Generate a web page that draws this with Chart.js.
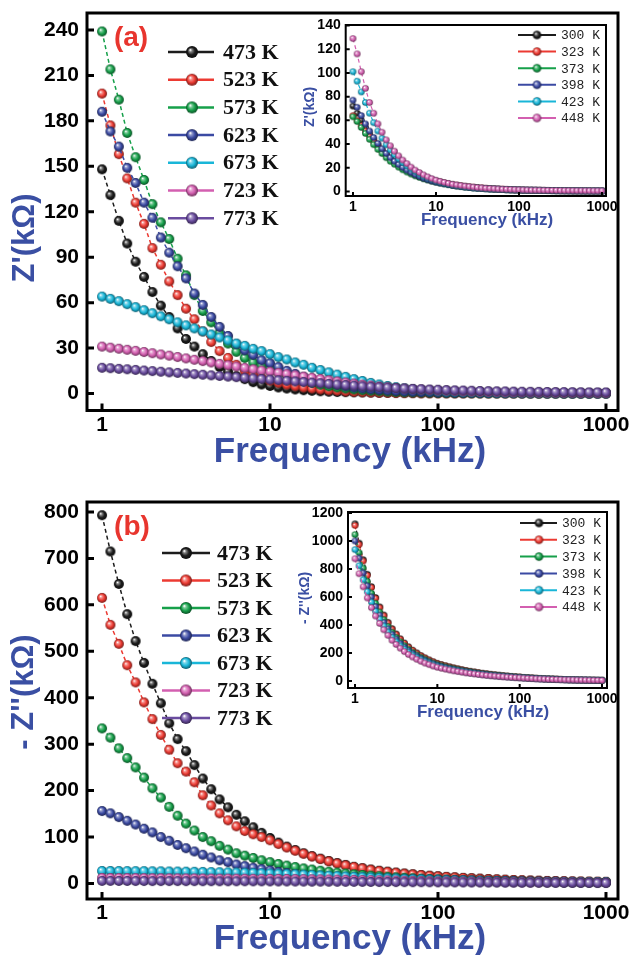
<!DOCTYPE html>
<html><head><meta charset="utf-8">
<script src="https://cdn.jsdelivr.net/npm/chart.js"></script>
<style>
html,body{margin:0;padding:0;background:#fff;}
body{width:631px;height:955px;position:relative;overflow:hidden;}
canvas{position:absolute;}
</style></head><body>
<canvas id="mainA" width="631" height="478" style="left:0px;top:0px"></canvas>
<canvas id="insetA" width="330" height="236" style="left:290px;top:0px"></canvas>
<canvas id="mainB" width="631" height="477" style="left:0px;top:478px"></canvas>
<canvas id="insetB" width="330" height="245" style="left:290px;top:478px"></canvas>
<script>
// ---------- DATA ----------
const freqs = [1,1.122,1.259,1.413,1.585,1.778,1.995,2.239,2.512,2.818,3.162,3.548,3.981,4.467,5.012,5.623,6.310,7.079,7.943,8.913,
  10,11.22,12.59,14.13,15.85,17.78,19.95,22.39,25.12,28.18,31.62,35.48,39.81,44.67,50.12,56.23,63.10,70.79,79.43,89.13,
  100,112.2,125.9,141.3,158.5,177.8,199.5,223.9,251.2,281.8,316.2,354.8,398.1,446.7,501.2,562.3,631.0,707.9,794.3,891.3,1000];

const tempsMain = ['473 K','523 K','573 K','623 K','673 K','723 K','773 K'];
const tempsInset = ['300 K','323 K','373 K','398 K','423 K','448 K'];

const xTicks = [1,10,100,1000];
const xTickLabels = ['1','10','100','1000'];
const yTicksA = [0,30,60,90,120,150,180,210,240];
const yTicksB = [0,100,200,300,400,500,600,700,800];
const yTicksIA = [0,20,40,60,80,100,120,140];
const yTicksIB = [0,200,400,600,800,1000,1200];

// Z' (kOhm), main panel (a)
const zr473 = [148,131,114,99,87,77,67,58,50.5,43,36,31,26,21.5,17.5,14.5,11.5,9.5,7.5,6,5,
  4,3.3,2.7,2.2,1.8,1.5,1.2,1.0,0.9,0.8, 0.7,0.6,0.5,0.5,0.4,0.4,0.35,0.3,0.3,0.3,
  0.25,0.25,0.2,0.2,0.2,0.2,0.15,0.15,0.15,0.15, 0.1,0.1,0.1,0.1,0.1,0.1,0.1,0.1,0.1,0.1];
const zr523 = [198,177,158,142,126,112,96,85,74,65,56,49,41,34,28,23.5,19,15,12.5,10.5,8.5,
  7,5.8,4.8,4,3.3,2.7,2.2,1.8,1.4,1.1, 0.9,0.7,0.5,0.4,0.3,0.2,0.2,0.1,0.1,0.1,
  0.1,0.1,0.1,0.1,0.1,0.1,0.1,0.1,0.1,0.1, 0.1,0.1,0.1,0.1,0.1,0.1,0.1,0.1,0.1,0.1];
const zr573 = [239,214,194,172,156,141,125,113,102,89,78,65,54.5,47,40,33,27.5,23.5,20.5,18.5,16.5,
  14,12,10,8.5,7,5.8,4.8,4,3.3,2.7, 2.2,1.8,1.5,1.2,1,0.8,0.7,0.6,0.5,0.4,
  0.35,0.3,0.3,0.25,0.25,0.2,0.2,0.2,0.15,0.15, 0.15,0.1,0.1,0.1,0.1,0.1,0.1,0.1,0.1,0.1];
const zr623 = [186,173,163,149,139,126,116,103,93,84,76,66,58.5,50.5,44,38,32.5,28.5,25.5,22,20,
  17.5,15,13,11,9.5,8,6.8,5.7,4.8,4, 3.4,2.8,2.4,2,1.7,1.4,1.2,1,0.85,0.7,
  0.6,0.5,0.45,0.4,0.35,0.3,0.3,0.25,0.25,0.2, 0.2,0.2,0.15,0.15,0.15,0.1,0.1,0.1,0.1,0.1];
const zr673 = [64,62.5,61,59,57,55,53,51,49,47,45,43,41,39,37,35,33,31.5,29.5,28,26,
  24,22.5,20.5,19,17,15.5,14,12.5,11,9.5, 8.3,7,6,5,4.2,3.5,2.9,2.4,2,1.6,
  1.3,1.1,0.9,0.8,0.7,0.6,0.5,0.45,0.4,0.35, 0.3,0.3,0.25,0.25,0.2,0.2,0.2,0.15,0.15,0.15];
const zr723 = [31,30.3,29.6,28.9,28.2,27.4,26.6,25.8,25,24.1,23.2, 22.3,21.4,20.5,19.6,18.7,17.8,16.9,16,15.2,14.4,
  13.6,12.8,12,11.2,10.4,9.6,8.8,8,7.3,6.6, 5.9,5.3,4.7,4.2,3.7,3.3,2.9,2.6,2.3,2.0,
  1.8,1.6,1.4,1.25,1.1,1.0,0.9,0.8,0.7,0.65, 0.6,0.55,0.5,0.45,0.4,0.4,0.35,0.35,0.3,0.3];
const zr773 = [17,16.7,16.3,16,15.6,15.2,14.8,14.4,14,13.6,13.2, 12.8,12.4,12,11.6,11.2,10.8,10.4,10,9.6,9.2,
  8.8,8.4,8,7.6,7.2,6.8,6.4,6,5.6,5.2, 4.8,4.5,4.2,3.9,3.6,3.3,3.1,2.9,2.7,2.5,
  2.3,2.1,2,1.85,1.7,1.6,1.5,1.4,1.3,1.2, 1.15,1.1,1.05,1,0.95,0.9,0.85,0.8,0.8,0.75];

// -Z'' (kOhm), main panel (b)
const zi473 = [793,715,645,580,522,475,430,388,345,311,285,255,226,203,181,164,148,134,121,109,98,
  88,79.5,72,65,59,53.5,48.5,44,40,36, 33,30,27.5,25.5,23.5,21.5,19.8,18.2,16.8,15.5,
  14.3,13.2,12.2,11.3,10.4,9.6,8.8,8.1,7.4,6.8, 6.3,5.8,5.4,5,4.7,4.4,4.1,3.9,3.7,3.5];
const zi523 = [615,557,516,470,433,390,354,320,288,259,241,218,190,168,151,136,123,113,106,100,93,
  85,77.5,70.5,64,58,52.5,47.5,43,39,35.5, 32.5,29.5,27,25,23,21,19.4,17.9,16.5,15.2,
  14,12.9,11.9,11,10.2,9.4,8.7,8,7.4,6.9, 6.4,5.9,5.5,5.1,4.8,4.5,4.2,4,3.8,3.6];
const zi573 = [334,314,291,270,250,228,205,185,165,146,129,114,100,91,81,73,65,60,55,50,46,
  42,38.5,35.5,32.5,30,27.5,25.3,23.3,21.5,19.8, 18.3,16.9,15.6,14.4,13.3,12.3,11.4,10.6,9.8,9.1,
  8.4,7.8,7.2,6.7,6.2,5.8,5.4,5,4.7,4.4, 4.1,3.8,3.6,3.4,3.2,3,2.9,2.8,2.7,2.6];
const zi623 = [156,151,143,135,127,118,110,100,92,83,76,69,62,56,50,46,41,37.5,34,31,28,
  25,22.5,20,18,16.8,16,15.2,14.5,13.8,13.2, 12.6,12,11.4,10.9,10.4,9.9,9.4,9,8.6,8.2,
  7.8,7.4,7,6.6,6.3,6,5.7,5.4,5.1,4.8, 4.5,4.3,4.1,3.9,3.7,3.5,3.3,3.1,3,2.9];
const zi673 = [27,26.9,26.8,26.7,26.6,26.5,26.3,26.1,25.9,25.7,25.5, 25.2,24.9,24.6,24.3,24,23.6,23.2,22.8,22.3,21.8,
  21.2,20.6,19.9,19.2,18.5,17.7,16.9,16.1,15.3,14.5, 13.7,12.9,12.1,11.3,10.6,9.9,9.2,8.6,8,7.4,
  6.9,6.4,5.9,5.5,5.1,4.7,4.4,4.1,3.8,3.5, 3.3,3.1,2.9,2.7,2.5,2.4,2.3,2.2,2.1,2];
const zi723 = [12,11.9,11.8,11.7,11.6,11.5,11.4,11.3,11.2,11.1,11, 10.9,10.8,10.7,10.6,10.5,10.4,10.3,10.2,10.1,10,
  9.9,9.7,9.5,9.3,9.1,8.9,8.7,8.4,8.1,7.8, 7.5,7.2,6.9,6.6,6.3,6,5.7,5.4,5.1,4.8,
  4.5,4.3,4.1,3.9,3.7,3.5,3.3,3.1,2.9,2.7, 2.6,2.5,2.4,2.3,2.2,2.1,2,1.9,1.8,1.7];
const zi773 = [5.5,5.5,5.4,5.4,5.3,5.3,5.2,5.2,5.1,5.1,5, 5,4.9,4.9,4.8,4.8,4.7,4.7,4.6,4.6,4.5,
  4.4,4.3,4.2,4.1,4,3.9,3.8,3.7,3.6,3.5, 3.4,3.3,3.2,3.1,3,2.9,2.8,2.7,2.6,2.5,
  2.4,2.3,2.2,2.1,2,1.9,1.8,1.7,1.6,1.5, 1.45,1.4,1.35,1.3,1.25,1.2,1.15,1.1,1.05,1];

// Z' inset (a)
const izr300 = [72,66,60,54,48.5,43.5,39,35,31.5,28,25,22.3,20,17.8,15.9,14.2,12.7,11.4,10.2,9.1,8.2,
  7.4,6.7,6.0,5.4,4.9,4.4,4.0,3.6,3.3,3.0, 2.7,2.5,2.3,2.1,1.9,1.75,1.6,1.5,1.4,1.3,
  1.2,1.1,1.05,1.0,0.95,0.9,0.85,0.8,0.75,0.7, 0.7,0.65,0.6,0.6,0.55,0.55,0.5,0.5,0.5,0.45];
const izr323 = [64,60,55.5,51,46.5,42,38,34.5,31,28,25.3,22.8,20.5,18.5,16.7,15,13.6,12.3,11.1,10,9,
  8.2,7.4,6.7,6.0,5.4,4.9,4.4,4.0,3.6,3.3, 3.0,2.7,2.5,2.3,2.1,1.9,1.75,1.6,1.5,1.4,
  1.3,1.2,1.1,1.05,1.0,0.95,0.9,0.85,0.8,0.75, 0.7,0.7,0.65,0.6,0.6,0.55,0.55,0.5,0.5,0.5];
const izr373 = [63,59,54,49,44,39.5,35.5,32,28.5,25.5,23,20.5,18.3,16.4,14.7,13.2,11.9,10.7,9.7,8.8,8,
  7.2,6.5,5.8,5.2,4.7,4.2,3.8,3.4,3.1,2.8, 2.6,2.4,2.2,2.0,1.85,1.7,1.55,1.45,1.35,1.25,
  1.15,1.1,1.0,0.95,0.9,0.85,0.8,0.75,0.7,0.7, 0.65,0.6,0.6,0.55,0.55,0.5,0.5,0.45,0.45,0.4];
const izr398 = [77,71,64,57,51,45.5,40.5,36,32,28.5,25.5,22.7,20.2,18,16,14.2,12.6,11.2,10,8.9,8,
  7.2,6.5,5.8,5.2,4.7,4.2,3.8,3.4,3.1,2.8, 2.6,2.4,2.2,2.0,1.85,1.7,1.55,1.45,1.35,1.25,
  1.15,1.1,1.0,0.95,0.9,0.85,0.8,0.75,0.7,0.7, 0.65,0.6,0.6,0.55,0.55,0.5,0.5,0.45,0.45,0.4];
const izr423 = [101,93,84,75,66,58,51,45,39.5,35,31,27.5,24.3,21.5,19,16.8,14.8,13,11.5,10.2,9,
  8,7.1,6.3,5.6,5,4.5,4,3.6,3.2,2.9, 2.6,2.4,2.2,2,1.85,1.7,1.6,1.5,1.4,1.3,
  1.2,1.1,1.05,1,0.95,0.9,0.85,0.8,0.75,0.7, 0.7,0.65,0.6,0.6,0.55,0.55,0.5,0.5,0.5,0.45];
const izr448 = [129,116,101,87,75,66,57,50,43.5,38.5,34,30,26.5,23.5,20.5,18,16,14,12.3,10.8,9.5,
  8.5,7.6,6.8,6.1,5.5,5,4.5,4.1,3.7,3.3, 3,2.7,2.5,2.3,2.1,1.9,1.8,1.65,1.5,1.4,
  1.3,1.2,1.1,1.05,1.0,0.95,0.9,0.85,0.8,0.75, 0.7,0.7,0.65,0.6,0.6,0.55,0.55,0.5,0.5,0.5];

// -Z'' inset (b)
const izi300 = [1123,985,866,762,674,596,529,471,419,374,336,301,271,244,220,200,181,165,150,137,126,
  117,108.5,100.7,93.4,86.7,80.4,74.6,69.3,64.3,59.6, 55.3,51.4,47.6,44.2,41.1,38.1,35.3,32.8,30.4,28.2,
  25.8,23.7,21.8,19.9,18.3,16.8,15.4,14.1,13,11.8, 10.8,10,9.2,8.4,7.7,7.1,6.4,5.9,5.4,5];
const izi323 = [1111,974,857,754,667,590,523,466,414,370,332,298,268,241,218,198,179,163,149,136,124,
  115,106.8,99.1,91.9,85.3,79.1,73.4,68.2,63.2,58.7, 54.4,50.6,46.9,43.5,40.4,37.4,34.7,32.2,29.9,27.8,
  25.4,23.3,21.5,19.6,18,16.5,15.1,13.9,12.8,11.7, 10.7,9.8,9.1,8.3,7.6,6.9,6.3,5.8,5.3,5];
const izi373 = [1045,916,806,710,627,555,492,438,390,348,312,280,252,227,205,186,168,154,140,127,117,
  108.6,100.7,93.5,86.7,80.5,74.6,69.3,64.4,59.7,55.3, 51.4,47.7,44.2,41.1,38.1,35.3,32.8,30.4,28.2,26.2,
  24,22,20.2,18.5,17,15.6,14.3,13.1,12.1,11, 10.1,9.2,8.5,7.8,7.1,6.6,6,5.5,5,4.7];
const izi398 = [1000,877,771,679,600,531,471,419,373,333,299,268,241,217,196,178,161,147,134,122,112,
  103.9,96.4,89.5,83,77.1,71.5,66.3,61.6,57.1,53, 49.2,45.7,42.3,39.3,36.5,33.8,31.4,29.1,27,25.1,
  23,21.1,19.4,17.7,16.2,14.9,13.7,12.5,11.5,10.5, 9.6,8.8,8.2,7.5,6.8,6.3,5.7,5.3,4.8,4.5];
const izi423 = [938,823,723,637,563,498,442,393,350,312,280,251,226,204,184,167,151,138,126,114,105,
  97.4,90.4,83.9,77.8,72.2,67,62.2,57.8,53.6,49.7, 46.1,42.8,39.7,36.9,34.2,31.7,29.4,27.3,25.3,23.5,
  21.5,19.7,18.2,16.6,15.2,14,12.8,11.8,10.8,9.9, 9,8.3,7.7,7,6.4,5.9,5.4,4.9,4.5,4.2];
const izi448 = [873,766,673,593,524,464,411,366,326,291,261,234,210,189,171,155,141,128,117,107,98,
  90.9,84.4,78.3,72.6,67.4,62.5,58,53.9,50,46.4, 43,40,37,34.4,31.9,29.6,27.4,25.5,23.6,22,
  20.1,18.4,17,15.5,14.2,13,12,11,10.1,9.2, 8.4,7.7,7.2,6.6,6,5.5,5,4.6,4.2,3.9];

// ---------- STYLE ----------
const seriesColors = ['#1c1c1c','#ec3a32','#16a04a','#3b4aa3','#19b6d8','#d35fb0','#6a4c9f'];
const titleBlue = '#3a4fa3';
const SANS = '"Liberation Sans", Arial, sans-serif';

function hexToRgb(h){h=h.replace('#','');return [parseInt(h.substr(0,2),16),parseInt(h.substr(2,2),16),parseInt(h.substr(4,2),16)];}
function mix(c1,c2,t){const a=hexToRgb(c1),b=hexToRgb(c2);return 'rgb('+a.map((v,i)=>Math.round(v+(b[i]-v)*t)).join(',')+')';}
function ball(color, r){
  const s = Math.ceil(r*2+2);
  const c = document.createElement('canvas'); c.width = s; c.height = s;
  const g = c.getContext('2d');
  const cx = s/2, cy = s/2;
  const grad = g.createRadialGradient(cx - r*0.3, cy - r*0.35, r*0.05, cx, cy, r);
  grad.addColorStop(0, '#ffffff');
  grad.addColorStop(0.22, mix(color,'#ffffff',0.45));
  grad.addColorStop(0.6, color);
  grad.addColorStop(1, mix(color,'#000000',0.5));
  g.fillStyle = grad; g.beginPath(); g.arc(cx,cy,r,0,Math.PI*2); g.fill();
  return c;
}

function decoPlugin(d){
  return {
    id:'deco',
    afterDraw(chart){
      const ctx = chart.ctx, a = chart.chartArea, xs = chart.scales.x, ys = chart.scales.y;
      ctx.save();
      ctx.strokeStyle = '#000'; ctx.lineWidth = d.tickW;
      ctx.beginPath();
      ys.ticks.forEach(t => { const y = ys.getPixelForValue(t.value); ctx.moveTo(a.left, y); ctx.lineTo(a.left + d.tickLen, y); });
      xs.ticks.forEach(t => { const x = xs.getPixelForValue(t.value); ctx.moveTo(x, a.bottom); ctx.lineTo(x, a.bottom - d.tickLen); });
      ctx.stroke();
      ctx.lineWidth = d.borderW;
      ctx.strokeRect(a.left, a.top, a.right - a.left, a.bottom - a.top);
      // legend
      const L = d.legend;
      L.labels.forEach((lab, i) => {
        const y = L.y0 + i * L.dy;
        ctx.strokeStyle = seriesColors[i]; ctx.lineWidth = L.lineW;
        ctx.beginPath(); ctx.moveTo(L.x1, y); ctx.lineTo(L.x2, y); ctx.stroke();
        const b = L.balls[i];
        ctx.drawImage(b, L.bx - b.width/2, y - b.height/2);
        ctx.fillStyle = L.color; ctx.font = L.font; ctx.textAlign = 'left'; ctx.textBaseline = 'middle';
        ctx.fillText(lab, L.tx, y + L.tyOff);
      });
      // titles
      ctx.fillStyle = titleBlue; ctx.textAlign = 'center'; ctx.textBaseline = 'middle';
      ctx.font = d.xTitle.font; ctx.fillText(d.xTitle.text, d.xTitle.x, d.xTitle.y);
      ctx.save(); ctx.translate(d.yTitle.x, d.yTitle.y); ctx.rotate(-Math.PI/2);
      ctx.font = d.yTitle.font; ctx.fillText(d.yTitle.text, 0, 0); ctx.restore();
      if (d.panel){
        ctx.fillStyle = '#e8352e'; ctx.font = d.panel.font;
        ctx.fillText(d.panel.text, d.panel.x, d.panel.y);
      }
      ctx.restore();
    }
  };
}

function makeChart(id, o){
  const balls = o.series.map((s,i) => ball(seriesColors[i], o.r));
  const datasets = o.series.map((vals, i) => ({
    label: o.labels[i],
    data: freqs.map((f, j) => ({x: f, y: vals[j]})),
    showLine: true,
    borderColor: seriesColors[i],
    borderWidth: o.lw,
    borderDash: [4,3],
    pointStyle: balls[i],
    pointRadius: o.r,
    order: o.series.length - i
  }));
  const tickFont = {family: SANS, size: o.tickSize, weight: 'bold'};
  new Chart(document.getElementById(id), {
    type: 'scatter',
    data: {datasets},
    options: {
      responsive: false, animation: false, events: [],
      layout: {padding: {left: 0, top: o.area.top, right: o.cw - o.area.right, bottom: 0}},
      plugins: {legend: {display: false}, tooltip: {enabled: false}},
      scales: {
        x: {
          type: 'logarithmic', min: o.xMin, max: o.xMax,
          grid: {display: false, drawTicks: false}, border: {display: false},
          afterBuildTicks: s => { s.ticks = xTicks.map(v => ({value: v})); },
          ticks: {font: tickFont, color: '#000', padding: o.xPad, maxRotation: 0, autoSkip: false,
                  callback: (v, i) => xTickLabels[i]},
          afterFit: s => { s.height = o.ch - o.area.bottom; s.paddingLeft = 0; s.paddingRight = 0; }
        },
        y: {
          type: 'linear', min: o.yMin, max: o.yMax,
          grid: {display: false, drawTicks: false}, border: {display: false},
          afterBuildTicks: s => { s.ticks = o.yTicks.map(v => ({value: v})); },
          ticks: {font: tickFont, color: '#000', padding: o.yPad, autoSkip: false,
                  callback: (v, i) => String(o.yTicks[i])},
          afterFit: s => { s.width = o.area.left; s.paddingTop = 0; s.paddingBottom = 0; }
        }
      }
    },
    plugins: [decoPlugin({
      tickW: o.tickW, tickLen: o.tickLen, borderW: o.borderW,
      legend: Object.assign({labels: o.labels, balls: o.series.map((s,i)=>ball(seriesColors[i], o.legendR))}, o.legend),
      xTitle: o.xTitle, yTitle: o.yTitle, panel: o.panel
    })]
  });
}

// main (a)
makeChart('mainA', {
  cw: 631, ch: 478, area: {left: 87, top: 13, right: 618, bottom: 410.5},
  series: [zr473, zr523, zr573, zr623, zr673, zr723, zr773], labels: tempsMain,
  xMin: 0.814, xMax: 1179, yMin: -11.2, yMax: 251.2, yTicks: yTicksA,
  r: 5, lw: 1.5, tickSize: 21, xPad: 2, yPad: 8, tickW: 3, tickLen: 7, borderW: 3, legendR: 6,
  legend: {x1: 168, x2: 214, bx: 192, tx: 223, y0: 52, dy: 27.7, lineW: 2.5, font: 'bold 22px "Liberation Serif", serif', color: '#111', tyOff: 1},
  xTitle: {text: 'Frequency (kHz)', x: 350, y: 452, font: 'bold 35px ' + SANS},
  yTitle: {text: "Z'(k\u03A9)", x: 25, y: 238, font: 'bold 31px ' + SANS},
  panel: {text: '(a)', x: 131, y: 38, font: 'bold 28px ' + SANS}
});
// inset (a)
makeChart('insetA', {
  cw: 330, ch: 236, area: {left: 55.7, top: 25, right: 316, bottom: 196},
  series: [izr300, izr323, izr373, izr398, izr423, izr448], labels: tempsInset,
  xMin: 0.817, xMax: 1117, yMin: -3.8, yMax: 140.4, yTicks: yTicksIA,
  r: 3.3, lw: 1.2, tickSize: 14, xPad: 3, yPad: 5, tickW: 2, tickLen: 4, borderW: 2, legendR: 4.3,
  legend: {x1: 228, x2: 266, bx: 247, tx: 271, y0: 35, dy: 16.6, lineW: 2, font: '13px "Liberation Mono", monospace', color: '#222', tyOff: 1},
  xTitle: {text: 'Frequency (kHz)', x: 197, y: 220, font: 'bold 17px ' + SANS},
  yTitle: {text: "Z'(k\u03A9)", x: 20, y: 107, font: 'bold 14px ' + SANS}
});
// main (b)
makeChart('mainB', {
  cw: 631, ch: 477, area: {left: 87, top: 24, right: 618, bottom: 421},
  series: [zi473, zi523, zi573, zi623, zi673, zi723, zi773], labels: tempsMain,
  xMin: 0.814, xMax: 1179, yMin: -33.4, yMax: 821.5, yTicks: yTicksB,
  r: 5, lw: 1.5, tickSize: 21, xPad: 2, yPad: 8, tickW: 3, tickLen: 7, borderW: 3, legendR: 6,
  legend: {x1: 162, x2: 210, bx: 186, tx: 217, y0: 75, dy: 27.5, lineW: 2.5, font: 'bold 22px "Liberation Serif", serif', color: '#111', tyOff: 1},
  xTitle: {text: 'Frequency (kHz)', x: 350, y: 461, font: 'bold 35px ' + SANS},
  yTitle: {text: "- Z''(k\u03A9)", x: 24, y: 214, font: 'bold 31px ' + SANS},
  panel: {text: '(b)', x: 132, y: 49, font: 'bold 28px ' + SANS}
});
// inset (b)
makeChart('insetB', {
  cw: 330, ch: 245, area: {left: 58, top: 34, right: 317, bottom: 210},
  series: [izi300, izi323, izi373, izi398, izi423, izi448], labels: tempsInset,
  xMin: 0.822, xMax: 1150, yMin: -50, yMax: 1207, yTicks: yTicksIB,
  r: 3.3, lw: 1.2, tickSize: 14, xPad: 3, yPad: 5, tickW: 2, tickLen: 4, borderW: 2, legendR: 4.3,
  legend: {x1: 230, x2: 267, bx: 249, tx: 272, y0: 45, dy: 16.8, lineW: 2, font: '13px "Liberation Mono", monospace', color: '#222', tyOff: 1},
  xTitle: {text: 'Frequency (kHz)', x: 193, y: 234, font: 'bold 17px ' + SANS},
  yTitle: {text: "- Z''(k\u03A9)", x: 15, y: 120, font: 'bold 14px ' + SANS}
});
</script>
</body></html>
